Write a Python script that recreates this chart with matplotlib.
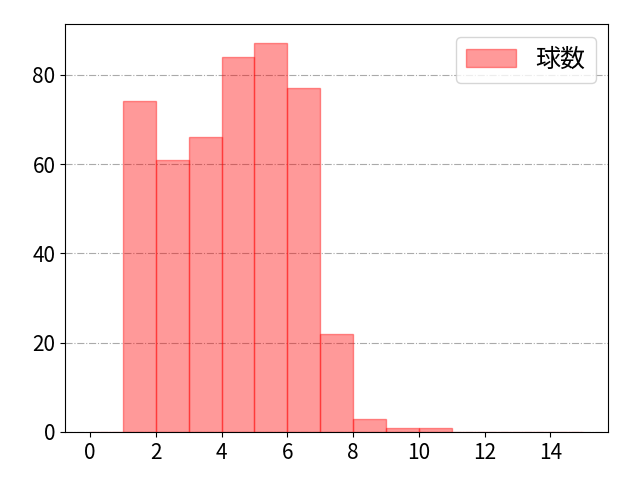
import matplotlib
matplotlib.use("Agg")
import matplotlib.pyplot as plt

plt.rcParams['font.family'] = ['Noto Sans CJK JP', 'DejaVu Sans']

# pitch count per bin (0-1, 1-2, ..., 14-15)
bin_edges = list(range(16))
counts = [0, 74, 61, 66, 84, 87, 77, 22, 3, 1, 1, 0, 0, 0, 0]
x_ticks = [0, 2, 4, 6, 8, 10, 12, 14]

fig = plt.figure(figsize=(6.4, 4.8), dpi=100)
ax = fig.add_axes([0.102, 0.1, 0.848, 0.85])

ax.hist(bin_edges[:-1], bins=bin_edges, weights=counts,
        color='red', alpha=0.4, edgecolor='red', linewidth=1,
        label='球数')

ax.set_xticks(x_ticks)
ax.grid(True, axis='y', linestyle='-.', color='#aaaaaa', linewidth=0.8)
ax.set_axisbelow(True)
ax.tick_params(labelsize=15)
ax.legend(loc='upper right', fontsize=18)

fig.savefig('out.png', dpi=100)
